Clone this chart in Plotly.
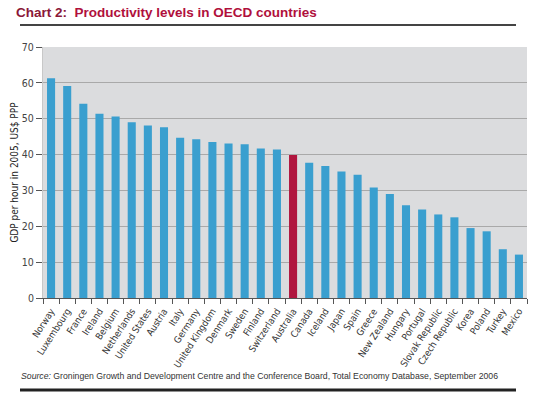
import plotly.graph_objects as go

countries = ["Norway", "Luxembourg", "France", "Ireland", "Belgium", "Netherlands",
             "United States", "Austria", "Italy", "Germany", "United Kingdom", "Denmark",
             "Sweden", "Finland", "Switzerland", "Australia", "Canada", "Iceland", "Japan",
             "Spain", "Greece", "New Zealand", "Hungary", "Portugal", "Slovak Republic",
             "Czech Republic", "Korea", "Poland", "Turkey", "Mexico"]
gdp_per_hour = [61.3, 59.1, 54.2, 51.4, 50.6, 49.0, 48.1, 47.6, 44.7, 44.3, 43.5, 43.1,
                42.9, 41.7, 41.4, 39.9, 37.7, 36.8, 35.3, 34.4, 30.8, 29.0, 25.9, 24.7,
                23.3, 22.5, 19.5, 18.6, 13.6, 12.1]
y_ticks = [0, 10, 20, 30, 40, 50, 60, 70]
highlight = "Australia"

BLUE = "#3a9fcf"
RED = "#b0163f"
colors = [RED if c == highlight else BLUE for c in countries]

narrow = "DejaVu Sans Condensed, Liberation Sans Narrow, Arial Narrow, sans-serif"

fig = go.Figure(go.Bar(x=countries, y=gdp_per_hour, marker=dict(color=colors, line=dict(width=0)),
                       width=0.5))

W, H = 534, 397
ml, mr, mt, mb = 43, 7, 47, 99
pw, ph = W - ml - mr, H - mt - mb

def px_x(x):
    return (x - ml) / pw

def px_y(y):
    return (H - mb - y) / ph

fig.update_layout(
    width=W, height=H,
    margin=dict(l=ml, r=mr, t=mt, b=mb, pad=0, autoexpand=False),
    paper_bgcolor="white",
    plot_bgcolor="#dbdcde",
    showlegend=False,
    font=dict(family=narrow, size=10, color="#333333"),
    xaxis=dict(
        tickangle=-57, tickson="boundaries", ticks="outside", ticklen=5, tickcolor="#555555",
        showline=True, linecolor="#555555", linewidth=1, showgrid=False, automargin=False,
        ticklabelstandoff=3,
        tickfont=dict(family=narrow, size=9.5, color="#333333"),
        range=[-0.5, len(countries) - 0.5], fixedrange=True,
    ),
    yaxis=dict(
        range=[0, 70], tickvals=y_ticks, ticks="outside", ticklen=6, tickcolor="#555555",
        showgrid=True, gridcolor="#a9a9a9", gridwidth=1, zeroline=False, automargin=False,
        showline=True, linecolor="#c8c8c8",
        tickfont=dict(family=narrow, size=10.5, color="#444444"),
        title=dict(text="GDP per hour in 2005, US$ PPP", standoff=1,
                   font=dict(family=narrow, size=10, color="#222222")),
    ),
)

fig.add_annotation(
    xref="paper", yref="paper", x=px_x(14), y=px_y(13), xanchor="left", yanchor="middle",
    text="<b><span style='color:#8a1838'>Chart 2:</span>"
         "  <span style='color:#b0103c'>Productivity levels in OECD countries</span></b>",
    showarrow=False, font=dict(family="Liberation Sans, Arial, sans-serif", size=13.5),
)
fig.add_shape(type="line", xref="paper", yref="paper", x0=px_x(20), x1=px_x(516),
              y0=px_y(25), y1=px_y(25), line=dict(color="#444444", width=2))

fig.add_annotation(
    xref="paper", yref="paper", x=px_x(19), y=px_y(376), xanchor="left", yanchor="middle",
    text="<i>Source:</i> Groningen Growth and Development Centre and the Conference Board, "
         "Total Economy Database, September 2006",
    showarrow=False, font=dict(family="Liberation Sans, Arial, sans-serif", size=8.7, color="#333333"),
)
fig.add_shape(type="line", xref="paper", yref="paper", x0=px_x(20), x1=px_x(516),
              y0=px_y(390), y1=px_y(390), line=dict(color="#222222", width=3))

fig.write_html("out.html", config={"displayModeBar": False},
               post_script="document.body.style.margin='0';document.body.style.overflow='hidden';")
